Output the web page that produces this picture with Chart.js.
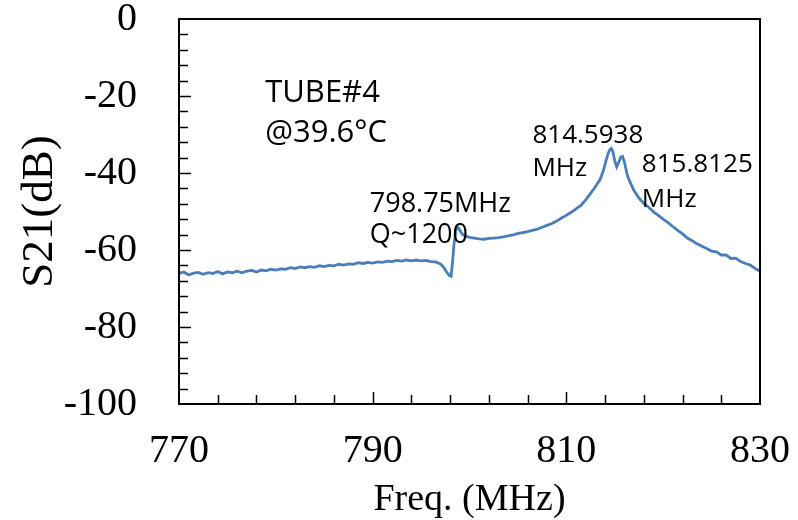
<!DOCTYPE html>
<html>
<head>
<meta charset="utf-8">
<title>S21 TUBE#4</title>
<script src="https://cdn.jsdelivr.net/npm/chart.js@4.4.0/dist/chart.umd.min.js"></script>
<style>
    html, body { margin: 0; padding: 0; background: #fff; overflow: hidden; }
    #s21-chart { display: block; }
</style>
</head>
<body>
<canvas id="s21-chart" width="798" height="560"></canvas>
<script>
const frecuencias = [
    770.0, 770.5, 771.0, 771.5, 772.0, 772.5, 773.0, 773.5, 774.0, 774.5,
    775.0, 775.5, 776.0, 776.5, 777.0, 777.5, 778.0, 778.5, 779.0, 779.5,
    780.0, 780.5, 781.0, 781.5, 782.0, 782.5, 783.0, 783.5, 784.0, 784.5,
    785.0, 785.5, 786.0, 786.5, 787.0, 787.5, 788.0, 788.5, 789.0, 789.5,
    790.0, 790.5, 791.0, 791.5, 792.0, 792.5, 793.0, 793.5, 794.0, 794.5,
    795.0, 795.5, 796.0, 796.5, 797.0, 797.3, 797.6, 797.9, 798.1, 798.25,
    798.4, 798.6, 798.75, 799.0, 799.3, 799.6, 800.0, 800.5, 801.0, 801.5,
    802.0, 802.5, 803.0, 803.5, 804.0, 804.5, 805.0, 805.5, 806.0, 806.5,
    807.0, 807.5, 808.0, 808.5, 809.0, 809.5, 810.0, 810.5, 811.0, 811.5,
    812.0, 812.5, 812.8, 813.1, 813.5, 813.85, 814.1, 814.3, 814.5, 814.65,
    814.8, 815.0, 815.2, 815.4, 815.6, 815.8, 816.0, 816.3, 816.6, 817.0,
    817.5, 818.0, 818.5, 819.0, 819.5, 820.0, 820.5, 821.0, 821.5, 822.0,
    822.5, 823.0, 823.5, 824.0, 824.5, 825.0, 825.5, 826.0, 826.5, 827.0,
    827.5, 828.0, 828.5, 829.0, 829.5, 830.0
];
const s21 = [
    -66.1, -65.7, -66.5, -66.0, -65.8, -66.3, -65.9, -66.1, -65.6, -66.2,
    -65.7, -65.9, -65.5, -65.9, -65.5, -65.3, -65.7, -65.2, -65.4, -65.0,
    -65.2, -64.9, -65.0, -64.6, -64.8, -64.4, -64.6, -64.3, -64.5, -64.1,
    -64.3, -64.0, -64.1, -63.7, -63.9, -63.6, -63.7, -63.3, -63.5, -63.2,
    -63.4, -63.1, -63.2, -62.9, -63.0, -62.7, -62.9, -62.6, -62.8, -62.6,
    -62.8, -62.7, -63.0, -63.1, -63.6, -64.4, -65.6, -66.6, -66.8, -63.0,
    -58.5, -54.6, -54.0, -54.9, -56.0, -56.4, -56.7, -56.9, -57.1, -57.2,
    -57.0, -56.9, -56.8, -56.6, -56.3, -56.1, -55.7, -55.5, -55.2, -54.9,
    -54.6, -54.1, -53.6, -53.1, -52.5, -51.7, -51.0, -50.2, -49.3, -48.4,
    -47.0, -45.3, -44.3, -43.2, -41.6, -39.2, -36.8, -35.0, -33.9, -33.6,
    -34.4, -36.8, -38.4, -37.3, -35.9, -35.7, -37.2, -40.6, -42.5, -44.6,
    -46.5, -47.9, -48.9, -50.1, -51.0, -52.0, -52.9, -53.9, -54.9, -55.8,
    -56.9, -57.6, -58.4, -59.0, -59.6, -60.3, -60.5, -61.3, -61.3, -62.2,
    -62.1, -63.0, -63.5, -63.9, -64.8, -65.5
];

// etiquetas de los ejes
const ticksX = [770, 790, 810, 830];
const ticksY = [0, -20, -40, -60, -80, -100];

// anotaciones: texto y posicion en unidades de datos (MHz, dB)
const notasTexto = ['TUBE#4', '@39.6°C', '798.75MHz', 'Q~1200', '814.5938', 'MHz', '815.8125', 'MHz'];
const notasX = [778.9, 778.9, 789.7, 789.7, 806.5, 806.5, 817.8, 817.8];
const notasY = [-21.5, -31.9, -50.1, -58.2, -32.2, -40.8, -39.7, -48.8];
const notasTam = [31, 31, 27, 27, 26, 26, 26, 26];

const fuenteEjes = '"Liberation Serif", "Times New Roman", serif';
const fuenteNotas = '"Open Sans", "Noto Sans", sans-serif';

// marco y marcas hacia dentro (menores cada 4, mayores cada 20)
const marcoYMarcas = {
    id: 'marcoYMarcas',
    afterDatasetsDraw(chart) {
        const { ctx, chartArea, scales } = chart;
        const ejeX = scales.x;
        const ejeY = scales.y;
        ctx.save();
        ctx.strokeStyle = '#000';
        ctx.lineWidth = 1.5;
        ctx.beginPath();
        for (let v = -96; v < 0; v += 4) {
            const py = Math.round(ejeY.getPixelForValue(v)) + 0.5;
            const largo = v % 20 === 0 ? 12 : 9;
            ctx.moveTo(chartArea.left, py);
            ctx.lineTo(chartArea.left + largo, py);
        }
        for (let f = 774; f < 830; f += 4) {
            const px = Math.round(ejeX.getPixelForValue(f)) + 0.5;
            const largo = (f - 770) % 20 === 0 ? 12 : 9;
            ctx.moveTo(px, chartArea.bottom);
            ctx.lineTo(px, chartArea.bottom - largo);
        }
        ctx.stroke();
        ctx.lineWidth = 2;
        ctx.strokeRect(chartArea.left, chartArea.top, chartArea.right - chartArea.left, chartArea.bottom - chartArea.top);

        // textos de las anotaciones
        ctx.fillStyle = '#000';
        ctx.textAlign = 'left';
        ctx.textBaseline = 'alphabetic';
        notasTexto.forEach((texto, i) => {
            ctx.font = `${notasTam[i]}px ${fuenteNotas}`;
            ctx.fillText(texto, ejeX.getPixelForValue(notasX[i]), ejeY.getPixelForValue(notasY[i]));
        });
        ctx.restore();
    }
};

const s21Canvas = document.getElementById('s21-chart');

const s21Chart = new Chart(s21Canvas, {
    type: 'line',
    data: {
        datasets: [{
            label: 'S21',
            data: frecuencias.map((f, i) => ({ x: f, y: s21[i] })),
            borderColor: '#4a7ebb',
            borderWidth: 2.8,
            pointRadius: 0,
            tension: 0,
            fill: false
        }]
    },
    options: {
        responsive: false,
        animation: false,
        layout: {
            padding: { top: 19, right: 38, left: 0, bottom: 0 }
        },
        scales: {
            x: {
                type: 'linear',
                min: 770,
                max: 830,
                afterBuildTicks: (eje) => {
                    eje.ticks = ticksX.map(v => ({ value: v }));
                },
                afterFit: (eje) => {
                    eje.height = 156;
                    eje.paddingLeft = 0;
                    eje.paddingRight = 0;
                },
                grid: { display: false, drawTicks: false },
                border: { display: false },
                ticks: {
                    color: '#000',
                    padding: 23,
                    maxRotation: 0,
                    font: { family: fuenteEjes, size: 40 }
                },
                title: {
                    display: true,
                    text: 'Freq. (MHz)',
                    color: '#000',
                    padding: { top: 0, bottom: 37 },
                    font: { family: fuenteEjes, size: 38 }
                }
            },
            y: {
                type: 'linear',
                min: -100,
                max: 0,
                afterBuildTicks: (eje) => {
                    eje.ticks = ticksY.map(v => ({ value: v }));
                },
                afterFit: (eje) => {
                    eje.width = 179;
                    eje.paddingTop = 0;
                    eje.paddingBottom = 0;
                },
                grid: { display: false, drawTicks: false },
                border: { display: false },
                ticks: {
                    color: '#000',
                    padding: 42,
                    font: { family: fuenteEjes, size: 40 }
                },
                title: {
                    display: true,
                    text: 'S21(dB)',
                    color: '#000',
                    padding: { top: 13, bottom: 0 },
                    font: { family: fuenteEjes, size: 45 }
                }
            }
        },
        plugins: {
            legend: { display: false },
            tooltip: { enabled: false }
        }
    },
    plugins: [marcoYMarcas]
});
</script>
</body>
</html>
